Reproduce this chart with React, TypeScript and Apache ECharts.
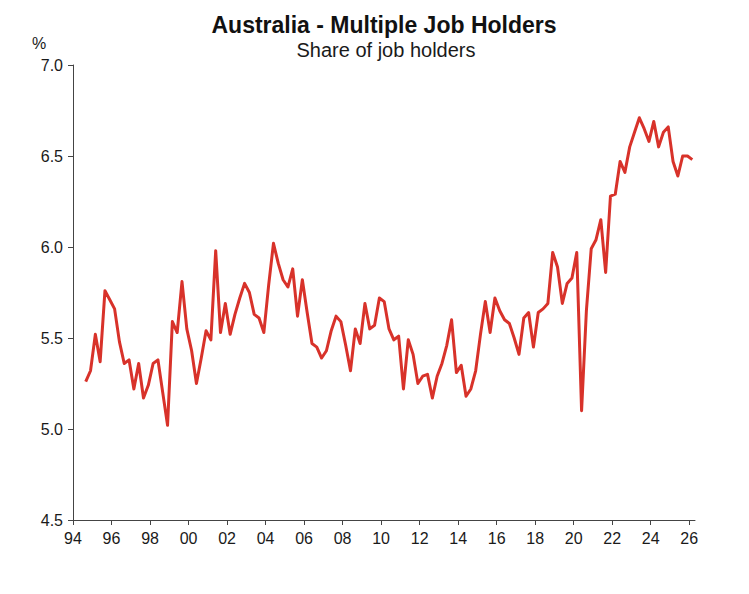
import React, { useEffect, useRef } from "react";
import * as echarts from "echarts";

// Quarterly observations, first one in the Sep quarter of 1994
const firstQuarterYear = 1994.66;
const shareValues: number[] = [
  5.26, 5.32, 5.52, 5.37, 5.76, 5.71, 5.66, 5.48, 5.36, 5.38,
  5.22, 5.36, 5.17, 5.24, 5.36, 5.38, 5.20, 5.02, 5.59, 5.53,
  5.81, 5.55, 5.43, 5.25, 5.39, 5.54, 5.49, 5.98, 5.53, 5.69,
  5.52, 5.63, 5.72, 5.80, 5.75, 5.63, 5.61, 5.53, 5.79, 6.02,
  5.91, 5.82, 5.78, 5.88, 5.62, 5.82, 5.64, 5.47, 5.45, 5.39,
  5.43, 5.54, 5.62, 5.59, 5.46, 5.32, 5.55, 5.47, 5.69, 5.55,
  5.57, 5.72, 5.70, 5.55, 5.49, 5.51, 5.22, 5.49, 5.41, 5.25,
  5.29, 5.30, 5.17, 5.29, 5.36, 5.46, 5.60, 5.31, 5.35, 5.18,
  5.22, 5.32, 5.52, 5.70, 5.53, 5.72, 5.65, 5.60, 5.58, 5.50,
  5.41, 5.61, 5.64, 5.45, 5.64, 5.66, 5.69, 5.97, 5.89, 5.69,
  5.80, 5.83, 5.97, 5.10, 5.65, 5.99, 6.04, 6.15, 5.86, 6.28,
  6.29, 6.47, 6.41, 6.55, 6.63, 6.71, 6.65, 6.58, 6.69, 6.55,
  6.63, 6.66, 6.47, 6.39, 6.50, 6.50, 6.48,
];
const xTickYears: number[] = [
  1994, 1996, 1998, 2000, 2002, 2004, 2006, 2008, 2010, 2012, 2014, 2016,
  2018, 2020, 2022, 2024, 2026,
];
const yTicks: number[] = [4.5, 5.0, 5.5, 6.0, 6.5, 7.0];

const titleText = "Australia - Multiple Job Holders";
const subtitleText = "Share of job holders";
const unitText = "%";

const FONT = "Liberation Sans, Arial, sans-serif";
const TEXT_COLOR = "#1a1a1a";
const AXIS_COLOR = "#444444";

export default function App() {
  const ref = useRef<HTMLDivElement>(null);

  useEffect(() => {
    if (!ref.current) return;
    const chart = echarts.init(ref.current, undefined, { renderer: "svg" });
    const seriesData = shareValues.map((v, i) => [firstQuarterYear + i * 0.25, v]);

    chart.setOption({
      animation: false,
      backgroundColor: "#ffffff",
      textStyle: { fontFamily: FONT },
      title: [
        {
          text: titleText,
          left: 379,
          textAlign: "center",
          top: 8,
          textStyle: { fontFamily: FONT, fontSize: 23, fontWeight: "bold", color: "#111" },
        },
        {
          text: subtitleText,
          left: 381,
          textAlign: "center",
          top: 35,
          textStyle: { fontFamily: FONT, fontSize: 20, fontWeight: "normal", color: TEXT_COLOR },
        },
      ],
      graphic: [
        {
          type: "text",
          left: 32,
          top: 35,
          style: { text: unitText, font: `16px ${FONT}`, fill: TEXT_COLOR },
        },
      ],
      grid: { left: 73, right: 54, top: 65, bottom: 74, containLabel: false },
      xAxis: {
        type: "value",
        min: 1994,
        max: 2026.3,
        splitLine: { show: false },
        axisLine: { show: true, lineStyle: { color: AXIS_COLOR, width: 1 } },
        axisTick: {
          show: true,
          inside: false,
          length: 5,
          customValues: xTickYears,
          lineStyle: { color: AXIS_COLOR },
        },
        axisLabel: {
          customValues: xTickYears,
          margin: 10,
          fontSize: 16,
          fontFamily: FONT,
          color: TEXT_COLOR,
          formatter: (v: number) => String(Math.round(v) % 100).padStart(2, "0"),
        },
      },
      yAxis: {
        type: "value",
        min: 4.5,
        max: 7.0,
        interval: 0.5,
        splitLine: { show: false },
        axisLine: { show: true, lineStyle: { color: AXIS_COLOR, width: 1 } },
        axisTick: {
          show: true,
          inside: false,
          length: 5,
          customValues: yTicks,
          lineStyle: { color: AXIS_COLOR },
        },
        axisLabel: {
          margin: 10,
          fontSize: 16,
          fontFamily: FONT,
          color: TEXT_COLOR,
          formatter: (v: number) => v.toFixed(1),
        },
      },
      series: [
        {
          type: "line",
          data: seriesData,
          showSymbol: false,
          symbol: "none",
          lineStyle: { color: "#d8322a", width: 3, join: "round" },
          itemStyle: { color: "#d8322a" },
        },
      ],
    });

    return () => chart.dispose();
  }, []);

  return (
    <div
      ref={ref}
      style={{ position: "fixed", left: 0, top: 0, width: 749, height: 594, background: "#fff" }}
    />
  );
}
